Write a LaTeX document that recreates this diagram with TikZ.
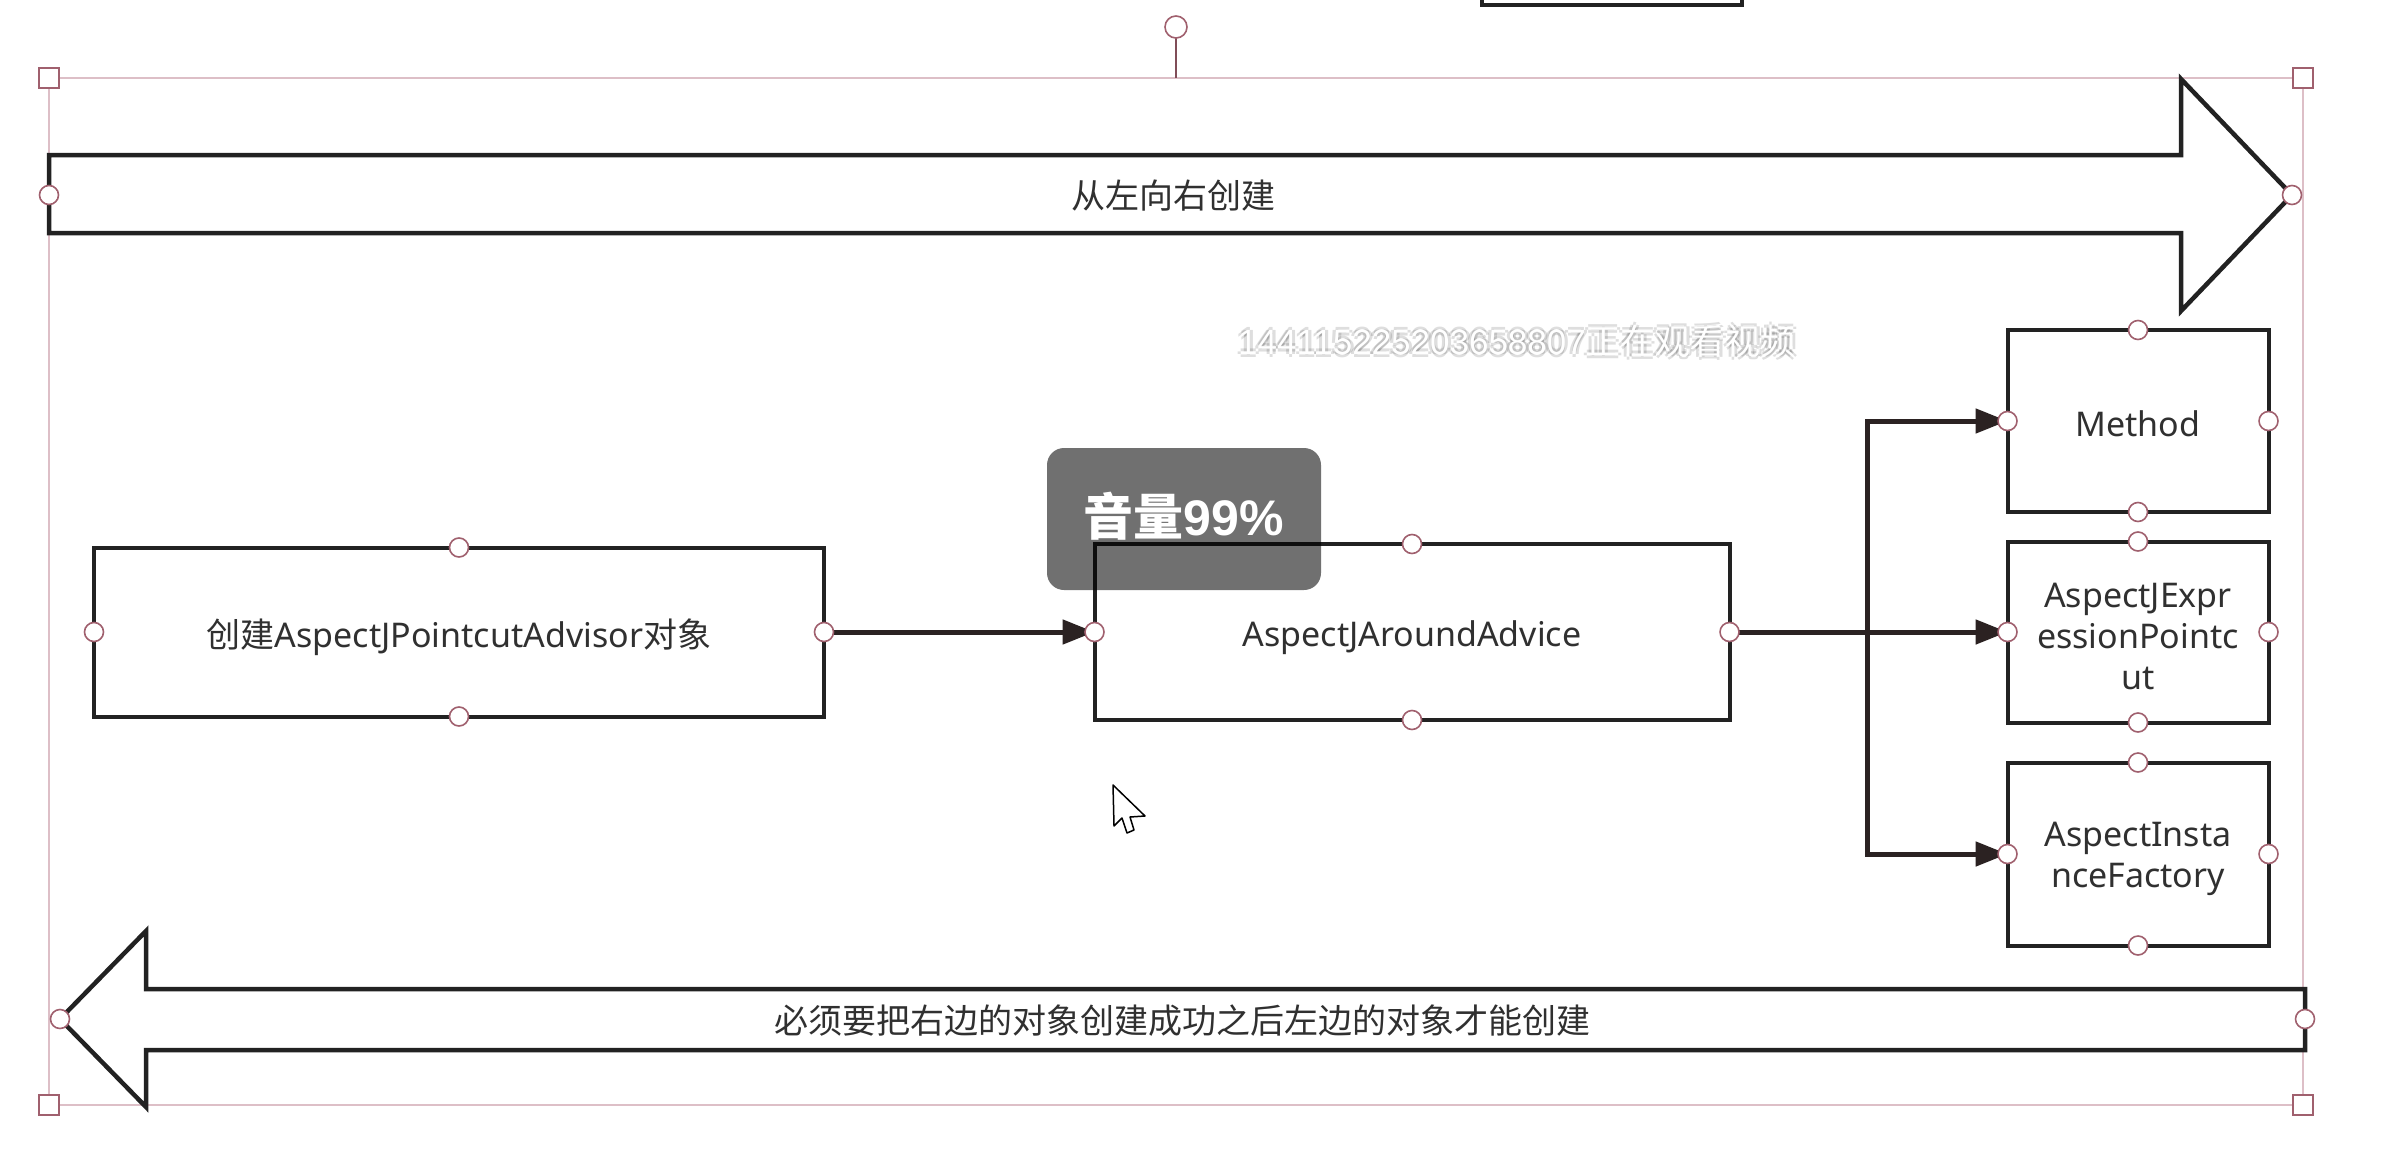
\documentclass[tikz,border=0pt]{standalone}
\usepackage{fontspec}
\setmainfont{Noto Sans}
\newfontfamily\cjk{Noto Sans CJK SC}
\newfontfamily\digitfont{Liberation Sans}
\usetikzlibrary{arrows.meta}

\definecolor{edgecol}{HTML}{222222}
\definecolor{conncol}{HTML}{2B2222}
\definecolor{hdlcol}{HTML}{A0606E}
\definecolor{framecol}{HTML}{DDBFC7}
\definecolor{txtcol}{HTML}{303030}

\tikzset{
  box/.style={draw=edgecol, line width=4pt, fill=white, inner sep=0pt, outer sep=0pt},
  boxtext/.style={text=txtcol, align=center, inner sep=0pt, font=\fontsize{34}{41}\selectfont},
  bigarrow/.style={draw=edgecol, line width=4.5pt, fill=white, line join=miter},
  conn/.style={draw=conncol, line width=5pt, -{Triangle[length=32pt,width=24pt]}},
  hdl/.style={draw=hdlcol, line width=1.6pt, fill=white},
  sqhdl/.style={draw=hdlcol, line width=1.6pt, fill=white, minimum size=20pt, inner sep=0pt},
  lbl/.style={text=txtcol, font=\fontsize{34}{41}\selectfont\cjk},
}

\begin{document}
\begin{tikzpicture}[x=1pt,y=-1pt]
\useasboundingbox (0,0) rectangle (2388,1172);
\fill[white] (0,0) rectangle (2388,1172);

% edge of a shape above the visible area
\draw[edgecol, line width=4pt] (1482,-10) -- (1482,5) -- (1742,5) -- (1742,-10);

% selection frame and rotation handle
\draw[framecol, line width=1.5pt] (49,78) rectangle (2303,1105);
\draw[hdlcol!80!black, line width=1.6pt] (1176,78) -- (1176,38);
\draw[hdl] (1176,27) circle[radius=11pt];

% wide arrow pointing right
\draw[bigarrow] (49,155) -- (2181,155) -- (2181,79) -- (2292,195) -- (2181,311)
  -- (2181,233) -- (49,233) -- cycle;
\node[lbl] (toptext) at (1173,196) {从左向右创建};

% wide arrow pointing left
\draw[bigarrow] (60,1019) -- (146,931) -- (146,989) -- (2305,989) -- (2305,1050)
  -- (146,1050) -- (146,1107) -- cycle;
\node[lbl] (bottext) at (1182,1021) {必须要把右边的对象创建成功之后左边的对象才能创建};

% object boxes
\node[box, minimum width=730pt, minimum height=169pt] (advisor) at (459,632) {};
\node[box, minimum width=635pt, minimum height=176pt] (around) at (1412,632) {};
\node[box, minimum width=261pt, minimum height=182pt] (method) at (2138,421) {};
\node[box, minimum width=261pt, minimum height=181pt] (expr) at (2138,632) {};
\node[box, minimum width=261pt, minimum height=183pt] (factory) at (2138,854) {};

% box labels
\node[boxtext] (advisor-t) at ([yshift=-5pt]advisor.center)
  {{\cjk 创建}AspectJPointcutAdvisor{\cjk 对象}};
\node[boxtext] (around-t) at ([yshift=-6pt]around.center) {AspectJAroundAdvice};
\node[boxtext] (method-t) at ([yshift=-3pt]method.center) {Method};
\node[boxtext] (expr-t) at ([yshift=-4pt]expr.center) {AspectJExpr\\essionPointc\\ut};
\node[boxtext] (factory-t) at ([yshift=-5pt]factory.center) {AspectInsta\\nceFactory};

% connectors
\draw[conn] (advisor.east) -- (around.west);
\draw[conn] (around.east) -- ++(138,0) |- (method.west);
\draw[conn] (around.east) -- (expr.west);
\draw[conn] (around.east) -- ++(138,0) |- (factory.west);

% connection handles
\foreach \n in {advisor,around,method,expr,factory}
  \foreach \a in {north,south,east,west}
    \draw[hdl] (\n.\a) circle[radius=9.5pt];
\draw[hdl] (49,195) circle[radius=9.5pt];
\draw[hdl] (2292,195) circle[radius=9.5pt];
\draw[hdl] (60,1019) circle[radius=9.5pt];
\draw[hdl] (2305,1019) circle[radius=9.5pt];

% corner handles of the selection
\node[sqhdl] at (49,78) {};
\node[sqhdl] at (2303,78) {};
\node[sqhdl] at (49,1105) {};
\node[sqhdl] at (2303,1105) {};

% viewer watermark with soft shadow
\foreach \dx/\dy in {-3/0,3/0,0/-3,0/3}
  \node[text=black, opacity=0.13, font=\fontsize{35}{40}\selectfont]
    at (1517+\dx,341+\dy) {{\digitfont 144115225203658807}{\cjk 正在观看视频}};
\node[text=white, font=\fontsize{35}{40}\selectfont] (viewer) at (1517,341)
  {{\digitfont 144115225203658807}{\cjk 正在观看视频}};

% volume overlay
\fill[black, opacity=0.56, rounded corners=17pt] (1047,448) rectangle (1321,590);
\node[text=white, font=\fontsize{50}{56}\selectfont\bfseries] (volume) at (1184,516)
  {{\cjk 音量}{\digitfont 99\%}};

% mouse pointer
\filldraw[fill=white, draw=black, line width=1.5pt, line join=round]
  (1113,785) -- (1114,826) -- (1122,818) -- (1127,833) -- (1134,830)
  -- (1130,817) -- (1145,816) -- cycle;
\end{tikzpicture}
\end{document}
